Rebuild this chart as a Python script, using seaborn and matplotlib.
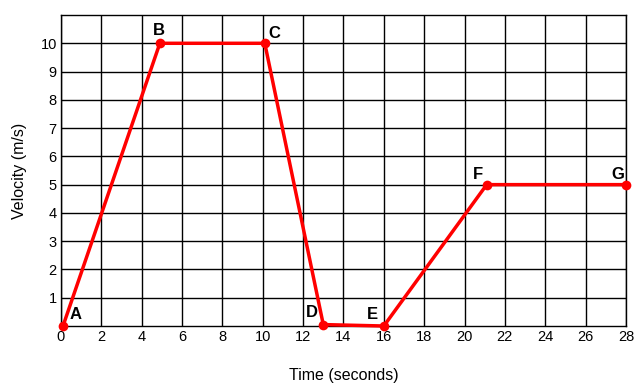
import matplotlib
matplotlib.use("Agg")
import matplotlib.pyplot as plt
import seaborn as sns
import pandas as pd

time_s = [0.1, 4.9, 10.1, 13.0, 16.0, 21.1, 28.0]
velocity = [0.0, 10.0, 10.0, 0.05, 0.0, 5.0, 5.0]
point_labels = ["A", "B", "C", "D", "E", "F", "G"]
x_ticks = list(range(0, 29, 2))
y_ticks = list(range(1, 11))

sns.set_style("white")
plt.rcParams['font.family'] = ['Liberation Sans', 'DejaVu Sans']
plt.rcParams['text.color'] = 'black'
plt.rcParams['axes.labelcolor'] = 'black'

df = pd.DataFrame({"t": time_s, "v": velocity})

fig = plt.figure(figsize=(6.4, 3.88), dpi=100)
ax = fig.add_axes([0.0953, 0.1598, 0.8827, 0.8015])
sns.lineplot(data=df, x="t", y="v", ax=ax, color="#ff0000", linewidth=2.5,
             marker="o", markersize=7, markeredgewidth=0, sort=False, zorder=5, clip_on=False)

ax.set_xlim(0, 28)
ax.set_ylim(0, 11)
ax.set_xticks(x_ticks)
ax.set_yticks(y_ticks)
ax.grid(True, color="black", linewidth=1)
for s in ax.spines.values():
    s.set_color("black")
    s.set_linewidth(1)
ax.tick_params(axis="both", length=0, labelsize=10.5, colors="black", pad=3)
ax.set_xlabel("Time (seconds)", fontsize=11.5, labelpad=17, color="black")
ax.set_ylabel("Velocity (m/s)", fontsize=11.5, labelpad=10, color="black")

offsets = {"A": (9, 3, "center", "bottom"), "B": (-1, 4, "center", "bottom"),
           "C": (7, 2, "center", "bottom"), "D": (-8, 3, "center", "bottom"),
           "E": (-8, 3, "center", "bottom"), "F": (-6, 2, "center", "bottom"),
           "G": (-6, 2, "center", "bottom")}
for lab, x, y in zip(point_labels, time_s, velocity):
    dx, dy, ha, va = offsets[lab]
    ax.annotate(lab, (x, y), xytext=(dx, dy), textcoords="offset points",
                ha=ha, va=va, fontsize=12, fontweight="bold", color="black", zorder=6)

fig.savefig("out.png", dpi=100)
